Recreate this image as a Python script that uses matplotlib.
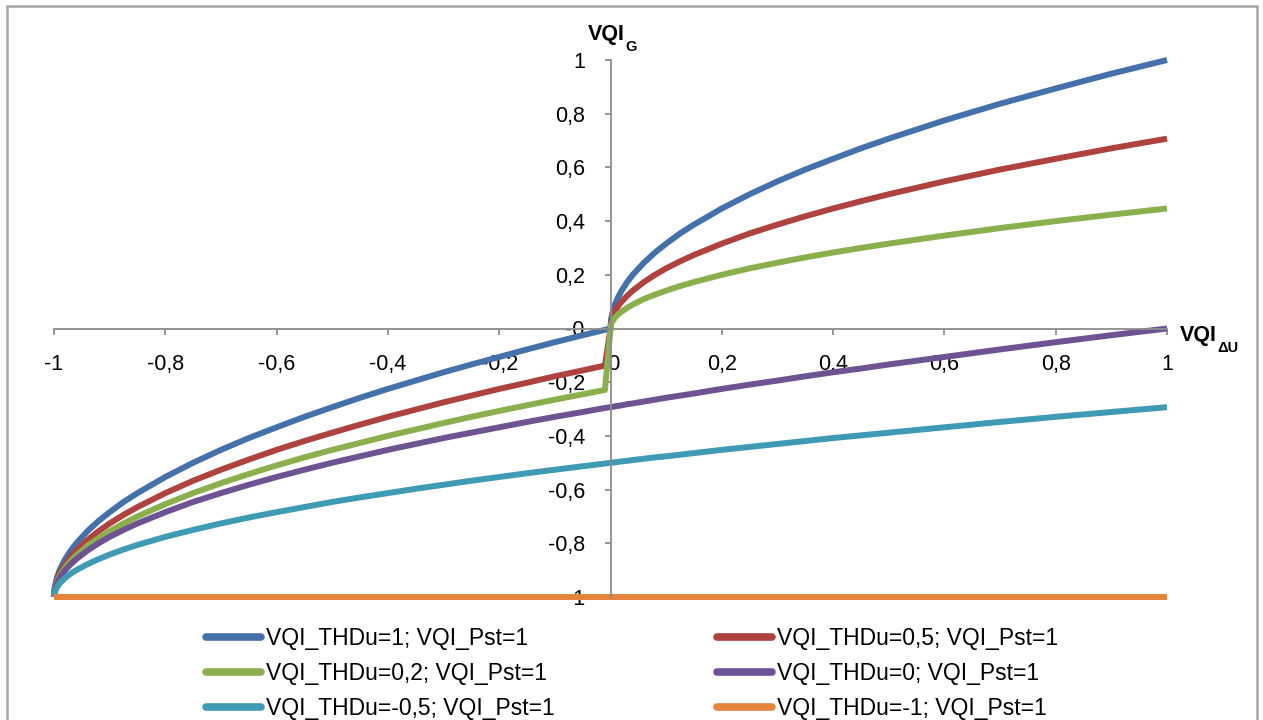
import numpy as np
import matplotlib
matplotlib.use("Agg")
import matplotlib.pyplot as plt
from matplotlib.patches import Rectangle

plt.rcParams['font.family'] = ['Liberation Sans', 'DejaVu Sans']

# x values (VQI_dU), negative and positive branch
x_neg = [-1, -0.999, -0.995, -0.99, -0.98, -0.97, -0.96, -0.94, -0.92, -0.9,
         -0.875, -0.85, -0.8, -0.75, -0.7, -0.65, -0.6, -0.55, -0.5, -0.45,
         -0.4, -0.35, -0.3, -0.25, -0.2, -0.15, -0.1, -0.05, -0.01]
x_pos = [0, 0.001, 0.003, 0.006, 0.01, 0.015, 0.02, 0.03, 0.04, 0.06,
         0.08, 0.1, 0.125, 0.15, 0.2, 0.25, 0.3, 0.35, 0.4, 0.45,
         0.5, 0.6, 0.7, 0.8, 0.9, 1.0]

# VQI_G
thd_1_neg = [-1, -0.968, -0.929, -0.900, -0.859, -0.827, -0.800, -0.755, -0.717, -0.684,
             -0.646, -0.613, -0.553, -0.500, -0.452, -0.408, -0.368, -0.329, -0.293, -0.258,
             -0.225, -0.194, -0.163, -0.134, -0.106, -0.078, -0.051, -0.025, -0.005]
thd_1_pos = [0, 0.032, 0.055, 0.077, 0.100, 0.122, 0.141, 0.173, 0.200, 0.245,
             0.283, 0.316, 0.354, 0.387, 0.447, 0.500, 0.548, 0.592, 0.632, 0.671,
             0.707, 0.775, 0.837, 0.894, 0.949, 1.000]

thd_05_neg = [-1, -0.973, -0.939, -0.913, -0.878, -0.850, -0.827, -0.788, -0.755, -0.726,
              -0.694, -0.665, -0.613, -0.567, -0.526, -0.488, -0.452, -0.419, -0.388, -0.358,
              -0.329, -0.302, -0.275, -0.250, -0.225, -0.202, -0.178, -0.156, -0.138]
thd_05_pos = [0, 0.022, 0.039, 0.055, 0.071, 0.087, 0.100, 0.122, 0.141, 0.173,
              0.200, 0.224, 0.250, 0.274, 0.316, 0.354, 0.387, 0.418, 0.447, 0.474,
              0.500, 0.548, 0.592, 0.632, 0.671, 0.707]

thd_02_neg = [-1, -0.976, -0.945, -0.923, -0.890, -0.866, -0.845, -0.810, -0.781, -0.755,
              -0.726, -0.700, -0.654, -0.613, -0.576, -0.542, -0.510, -0.480, -0.452, -0.426,
              -0.400, -0.376, -0.352, -0.329, -0.307, -0.286, -0.265, -0.245, -0.229]
thd_02_pos = [0, 0.014, 0.024, 0.035, 0.045, 0.055, 0.063, 0.077, 0.089, 0.110,
              0.126, 0.141, 0.158, 0.173, 0.200, 0.224, 0.245, 0.265, 0.283, 0.300,
              0.316, 0.346, 0.374, 0.400, 0.424, 0.447]

thd_0_neg = [-1, -0.978, -0.950, -0.929, -0.900, -0.878, -0.859, -0.827, -0.800, -0.776,
             -0.750, -0.726, -0.684, -0.646, -0.613, -0.582, -0.553, -0.526, -0.500, -0.476,
             -0.452, -0.430, -0.408, -0.388, -0.368, -0.348, -0.329, -0.311, -0.296]
thd_0_pos = [-0.293, -0.293, -0.292, -0.291, -0.289, -0.288, -0.286, -0.282, -0.279, -0.272,
             -0.265, -0.258, -0.250, -0.242, -0.225, -0.209, -0.194, -0.178, -0.163, -0.149,
             -0.134, -0.106, -0.078, -0.051, -0.025, 0.0]

thd_m05_neg = [-1, -0.984, -0.965, -0.950, -0.929, -0.913, -0.900, -0.878, -0.859, -0.842,
               -0.823, -0.806, -0.776, -0.750, -0.726, -0.704, -0.684, -0.665, -0.646, -0.629,
               -0.613, -0.597, -0.582, -0.567, -0.553, -0.539, -0.526, -0.513, -0.503]
thd_m05_pos = [-0.500, -0.500, -0.499, -0.499, -0.498, -0.496, -0.495, -0.493, -0.490, -0.485,
               -0.480, -0.476, -0.470, -0.464, -0.452, -0.441, -0.430, -0.419, -0.408, -0.398,
               -0.388, -0.368, -0.348, -0.329, -0.311, -0.293]

thd_m1_neg = [-1] * len(x_neg)
thd_m1_pos = [-1] * len(x_pos)

labels = ['VQI_THDu=1; VQI_Pst=1', 'VQI_THDu=0,5; VQI_Pst=1',
          'VQI_THDu=0,2; VQI_Pst=1', 'VQI_THDu=0; VQI_Pst=1',
          'VQI_THDu=-0,5; VQI_Pst=1', 'VQI_THDu=-1; VQI_Pst=1']
colors = ['#4471AA', '#AE423F', '#8CAF4D', '#6E5393', '#3F9AB3', '#E5843A']

series = [(thd_1_neg, thd_1_pos), (thd_05_neg, thd_05_pos), (thd_02_neg, thd_02_pos),
          (thd_0_neg, thd_0_pos), (thd_m05_neg, thd_m05_pos), (thd_m1_neg, thd_m1_pos)]

fig = plt.figure(figsize=(12.63, 7.2), dpi=100)
ax = fig.add_axes([54 / 1263, 123 / 720, 1113 / 1263, 537 / 720])

xs = x_neg + x_pos
for (yn, yp), c, lab in zip(series, colors, labels):
    ax.plot(xs, yn + yp, color=c, lw=4.3, label=lab, clip_on=False,
            solid_capstyle='butt', solid_joinstyle='round')

ax.set_xlim(-1, 1)
ax.set_ylim(-1, 1)

ticks = np.round(np.arange(-1, 1.01, 0.2), 1)
tick_text = [('%g' % t).replace('.', ',') for t in ticks]
ax.set_xticks(ticks)
ax.set_xticklabels(tick_text)
ax.set_yticks(ticks)
ax.set_yticklabels(tick_text)

axis_col = '#8C8C8C'
for s in ['top', 'right']:
    ax.spines[s].set_visible(False)
ax.spines['left'].set_position(('data', 0))
ax.spines['bottom'].set_position(('data', 0))
for s in ['left', 'bottom']:
    ax.spines[s].set_color(axis_col)
    ax.spines[s].set_linewidth(1.3)
ax.tick_params(axis='both', direction='out', length=4.5, width=1.3, color=axis_col,
               labelsize=15.5, labelcolor='black')
ax.tick_params(axis='x', pad=14)
ax.tick_params(axis='y', pad=14)
ax.patch.set_alpha(0)

# axis titles with subscripts
t1 = fig.text(588 / 1263, 1 - 40 / 720, 'VQI', fontsize=15.5, fontweight='bold', va='baseline')
ax.annotate('G', xy=(1, 0), xycoords=t1, xytext=(0.5, -4), textcoords='offset points',
            fontsize=10.5, fontweight='bold', va='baseline', annotation_clip=False)
t2 = fig.text(1180 / 1263, 1 - 341 / 720, 'VQI', fontsize=15.5, fontweight='bold', va='baseline')
ax.annotate('\u0394U', xy=(1, 0), xycoords=t2, xytext=(0.5, -4), textcoords='offset points',
            fontsize=10.5, fontweight='bold', va='baseline', annotation_clip=False)

handles, labs = ax.get_legend_handles_labels()
order = [0, 2, 4, 1, 3, 5]
leg = fig.legend([handles[i] for i in order], [labs[i] for i in order],
                 loc='upper left', bbox_to_anchor=(206 / 1263, 1 - 627 / 720), ncol=2,
                 frameon=False, fontsize=16.5, handlelength=2.4, handletextpad=0.2,
                 columnspacing=7.1, labelspacing=0.52, borderpad=0, borderaxespad=0)
for h in leg.get_lines():
    h.set_linewidth(5.5)
    h.set_solid_capstyle('round')

# chart border
fig.patches.append(Rectangle((7 / 1263, -0.1), 1250 / 1263, 1.1 - 6 / 720,
                             transform=fig.transFigure, fill=False,
                             edgecolor='#A6A6A6', lw=1.8))

fig.savefig('out.png', dpi=100, facecolor='white')
